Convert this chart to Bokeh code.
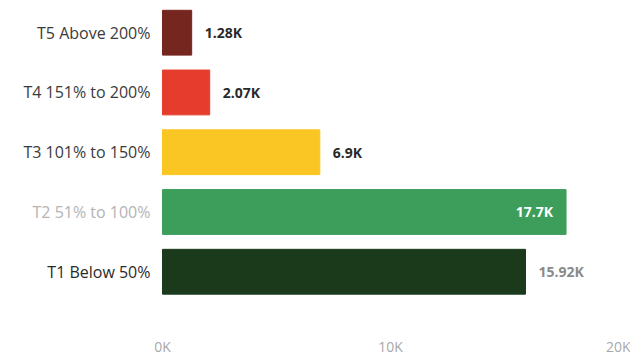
from bokeh.plotting import figure
from bokeh.models import ColumnDataSource, LabelSet, Range1d, FixedTicker
from bokeh.core.properties import value
from bokeh.embed import file_html
from bokeh.resources import INLINE

categories = ["T1 Below 50%", "T2 51% to 100%", "T3 101% to 150%", "T4 151% to 200%", "T5 Above 200%"]
values = [15920, 17700, 6900, 2070, 1280]
value_labels = ["15.92K", "17.7K", "6.9K", "2.07K", "1.28K"]
bar_colors = ["#1b3a1c", "#3d9e5b", "#f9c623", "#e63c2d", "#75271f"]
cat_label_colors = ["#2a2a2a", "#b4b4b4", "#3a3a3a", "#3a3a3a", "#3a3a3a"]
val_label_colors = ["#8a8a8a", "#ffffff", "#2a2a2a", "#2a2a2a", "#2a2a2a"]
x_ticks = [0, 10000, 20000]
x_tick_labels = ["0K", "10K", "20K"]

pos = list(range(len(categories)))
inside = [v == max(values) for v in values]
src = ColumnDataSource(dict(
    y=pos, v=values, c=bar_colors, cat=categories, catc=cat_label_colors,
    lab=value_labels, labc=val_label_colors,
    zero=[0] * len(pos),
    xo=[-13 if i else 13 for i in inside],
    al=["right" if i else "left" for i in inside],
))

# left part of the x range holds the category labels (frame spans whole width)
p = figure(width=630, height=358, output_backend="svg", toolbar_location=None,
           x_range=Range1d(-7105, 20000), y_range=Range1d(-0.615, 4.405),
           min_border_left=0, min_border_right=12, min_border_top=8, min_border_bottom=40)
p.outline_line_color = None
p.grid.visible = False
p.background_fill_color = "white"
p.border_fill_color = "white"

p.hbar(y="y", right="v", left=0, height=0.75, color="c", source=src)

p.yaxis.visible = False
xa = p.xaxis[0]
xa.ticker = FixedTicker(ticks=x_ticks)
xa.major_label_overrides = {t: l for t, l in zip(x_ticks, x_tick_labels)}
xa.axis_line_color = None
xa.major_tick_line_color = None
xa.minor_tick_line_color = None
xa.major_label_standoff = 22
xa.major_label_text_font = "Open Sans"
xa.major_label_text_font_size = "14px"
xa.major_label_text_color = "#a8a8a8"

cats = LabelSet(x="zero", y="y", text="cat", source=src, x_offset=-12,
                text_align="right", text_baseline="middle", text_color="catc",
                text_font=value("Open Sans"), text_font_size="16px")
p.add_layout(cats)

labs = LabelSet(x="v", y="y", text="lab", source=src, x_offset="xo",
                text_align="al", text_baseline="middle", text_color="labc",
                text_font=value("Open Sans"), text_font_size="14px", text_font_style="bold")
p.add_layout(labs)

open("out.html", "w").write(file_html(p, INLINE))
